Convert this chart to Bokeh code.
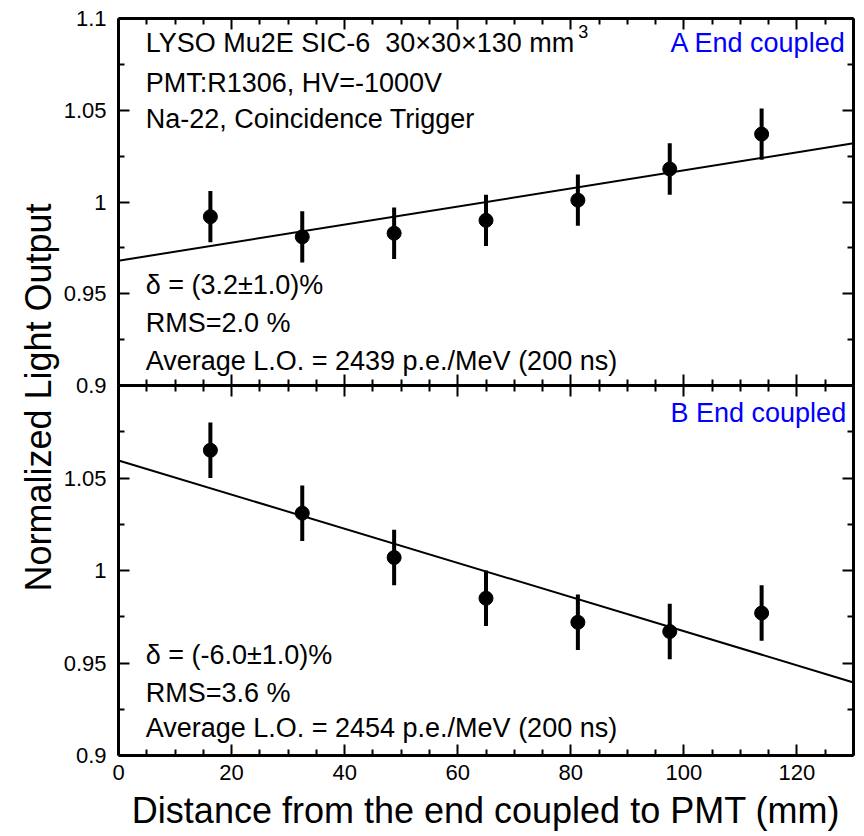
from math import pi
from bokeh.plotting import figure
from bokeh.models import Range1d, LinearAxis, FixedTicker, Label
from bokeh.layouts import row, column
from bokeh.core.properties import value
from bokeh.embed import file_html
from bokeh.resources import INLINE

# ---- data ----
distance = [16.25, 32.5, 48.75, 65.0, 81.25, 97.5, 113.75]
a_end_lo = [0.992, 0.981, 0.983, 0.990, 1.001, 1.018, 1.037]
a_end_err = [0.014, 0.014, 0.014, 0.014, 0.014, 0.014, 0.014]
b_end_lo = [1.065, 1.031, 1.007, 0.985, 0.972, 0.967, 0.977]
b_end_err = [0.015, 0.015, 0.015, 0.015, 0.015, 0.015, 0.015]
fit_x = [0.0, 130.0]
a_fit_y = [0.968, 1.032]
b_fit_y = [1.0595, 0.9395]

x_major = [0, 20, 40, 60, 80, 100, 120]
x_minor = [v for v in range(0, 131, 5) if v % 20 != 0]
y_major = [0.9, 0.95, 1.0, 1.05, 1.1]
y_minor = [0.925, 0.975, 1.025, 1.075]
top_y_labels = ["0.9", "0.95", "1", "1.05", "1.1"]
bot_y_labels = ["0.9", "0.95", "1", "1.05", ""]
x_title = "Distance from the end coupled to PMT (mm)"
y_title = "Normalized Light Output"

FONT = "Liberation Sans"


def style_axis(ax, ticks, minor, show_labels):
    ax.ticker = FixedTicker(ticks=ticks, minor_ticks=minor)
    ax.axis_line_width = 3
    ax.axis_line_color = "black"
    ax.major_tick_in = 11
    ax.major_tick_out = 0
    ax.minor_tick_in = 6
    ax.minor_tick_out = 0
    ax.major_tick_line_width = 2
    ax.minor_tick_line_width = 2
    ax.major_label_text_font = FONT
    ax.major_label_text_font_size = "22px"
    ax.major_label_text_color = "black"
    if not show_labels:
        ax.major_label_overrides = {t: "" for t in ticks}
        ax.major_label_standoff = 0


def panel(height, btop, bbottom, ydata, yerr, fity, ylabels, xlabels):
    p = figure(width=804, height=height, x_range=Range1d(0, 130), y_range=Range1d(0.9, 1.1),
               min_border_top=btop, min_border_bottom=bbottom, min_border_left=53,
               min_border_right=11, toolbar_location=None, output_backend="svg",
               outline_line_color=None, background_fill_color="white", border_fill_color=None)
    p.grid.visible = False
    p.add_layout(LinearAxis(), "above")
    p.add_layout(LinearAxis(), "right")
    style_axis(p.below[0], x_major, x_minor, xlabels)
    style_axis(p.above[0], x_major, x_minor, False)
    style_axis(p.left[0], y_major, y_minor, True)
    style_axis(p.right[0], y_major, y_minor, False)
    p.left[0].major_label_standoff = 12
    p.left[0].major_label_overrides = {t: s for t, s in zip(y_major, ylabels)}
    lo = [y - e for y, e in zip(ydata, yerr)]
    hi = [y + e for y, e in zip(ydata, yerr)]
    p.line(fit_x, fity, line_color="black", line_width=2)
    p.segment(distance, lo, distance, hi, line_color="black", line_width=4)
    p.scatter(distance, ydata, size=14, color="black")
    return p


# top panel: frame 18..385, 12 px spare below so its "0.9" label is not cut
p1 = panel(397, 18, 12, a_end_lo, a_end_err, a_fit_y, top_y_labels, False)
# bottom panel: overlaps the spare strip (transparent border) so the frames touch
p2 = panel(463, 12, 81, b_end_lo, b_end_err, b_fit_y, bot_y_labels, True)
p2.margin = (-24, 0, 0, 0)

ax = p2.below[0]
ax.axis_label = x_title
ax.axis_label_text_font = FONT
ax.axis_label_text_font_size = "36px"
ax.axis_label_text_font_style = "normal"
ax.axis_label_text_color = "black"
ax.major_label_standoff = 9
ax.axis_label_standoff = 7


def lab(p, x, y, text, color="black", align="left", size="27px"):
    p.add_layout(Label(x=x, y=y, text=text, text_font=FONT, text_font_size=size,
                       text_color=color, text_align=align, text_baseline="middle"))


lab(p1, 4.8, 1.0864, "LYSO Mu2E SIC-6 \u00a030\u00d730\u00d7130 mm")
lab(p1, 81.3, 1.0929, "3", size="18px")
lab(p1, 4.8, 1.0651, "PMT:R1306, HV=-1000V")
lab(p1, 4.8, 1.0455, "Na-22, Coincidence Trigger")
lab(p1, 128.7, 1.0864, "A End coupled", color="#0000ff", align="right")
lab(p1, 4.8, 0.9545, "\u03b4 = (3.2\u00b11.0)%")
lab(p1, 4.8, 0.9338, "RMS=2.0 %")
lab(p1, 4.8, 0.9136, "Average L.O. = 2439 p.e./MeV (200 ns)")

lab(p2, 128.7, 1.0849, "B End coupled", color="#0000ff", align="right")
lab(p2, 4.8, 0.9541, "\u03b4 = (-6.0\u00b11.0)%")
lab(p2, 4.8, 0.9340, "RMS=3.6 %")
lab(p2, 4.8, 0.9146, "Average L.O. = 2454 p.e./MeV (200 ns)")

# y-axis title spanning both panels
pl = figure(width=60, height=836, x_range=Range1d(0, 60), y_range=Range1d(0, 836),
            min_border=0, toolbar_location=None, output_backend="svg",
            outline_line_color=None, x_axis_type=None, y_axis_type=None)
pl.grid.visible = False
pl.text(x=[38], y=[836 - 397], text=[y_title], angle=pi / 2,
        text_font=value(FONT), text_font_size="36px", text_align="center",
        text_baseline="middle", text_color="black")

layout = row(pl, column(p1, p2))
open("out.html", "w").write(file_html(layout, INLINE))
